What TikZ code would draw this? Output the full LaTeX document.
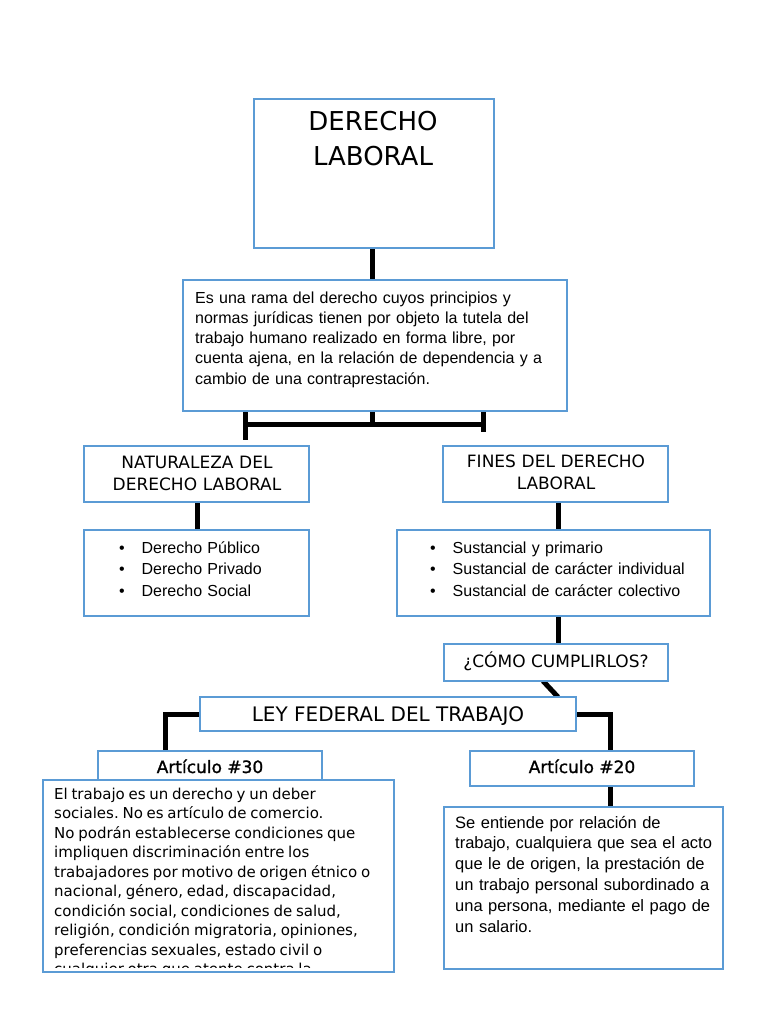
\documentclass[tikz,border=0pt]{standalone}
\usepackage{fontspec}
\setmainfont{Liberation Sans}
\newfontfamily\djfont{DejaVu Sans}
\newfontfamily\djsemi[FakeBold=1.2]{DejaVu Sans}
\newfontfamily\arfont{Liberation Sans}
\usetikzlibrary{backgrounds}
\definecolor{boxblue}{RGB}{91,155,213}
\frenchspacing
\tikzset{
  box/.style={draw=boxblue, line width=2.5pt, fill=white, anchor=north west, inner sep=0pt, outer sep=0pt},
  conn/.style={draw=black, line width=5pt},
  ttl/.style={font=\djfont\fontsize{17}{22}\selectfont, inner sep=0pt, anchor=base},
  ttlml/.style={ttl, text width=225pt, align=center},
  body/.style={font=\arfont\fontsize{16}{20.3}\selectfont, inner sep=0pt, anchor=base west, align=left},
}
\newcommand{\bul}{\makebox[22.5pt][l]{•}}
\begin{document}
\begin{tikzpicture}[x=1pt,y=-1pt]
\useasboundingbox (0,0) rectangle (768,1024);
% boxes
\node[box, minimum width=240pt, minimum height=149pt] (dl) at (254,99) {};
\node[box, minimum width=384pt, minimum height=131pt] (desc) at (183,280) {};
\node[box, minimum width=225pt, minimum height=56pt] (nat) at (84,446) {};
\node[box, minimum width=225pt, minimum height=86pt] (l1) at (84,530) {};
\node[box, minimum width=225pt, minimum height=56pt] (fin) at (443,446) {};
\node[box, minimum width=313pt, minimum height=86pt] (l2) at (397,530) {};
\node[box, minimum width=224pt, minimum height=37pt] (como) at (444,644) {};
\node[box, minimum width=376pt, minimum height=34pt] (ley) at (200,697) {};
\node[box, minimum width=224pt, minimum height=37pt] (a30) at (98,751) {};
\node[box, minimum width=351pt, minimum height=192pt] (b30) at (43,780) {};
\node[box, minimum width=224pt, minimum height=35pt] (a20) at (470,751) {};
\node[box, minimum width=279pt, minimum height=162pt] (b20) at (444,807) {};
% texts
\node[font=\djfont\fontsize{26}{35}\selectfont, inner sep=0pt, anchor=base, text width=240pt, align=center] (dlt) at (373,131) {DERECHO\\LABORAL};
\node[body, text width=370pt] (desct) at (195,303) {Es una rama del derecho cuyos principios y\\normas jurídicas tienen por objeto la tutela del\\trabajo humano realizado en forma libre, por\\cuenta ajena, en la relación de dependencia y a\\cambio de una contraprestación.};
\node[ttlml] (natt) at (197,468) {NATURALEZA DEL\\DERECHO LABORAL};
\node[ttlml] (fint) at (556,467) {FINES DEL DERECHO\\LABORAL};
\node[body, font=\arfont\fontsize{16}{21.5}\selectfont, text width=185pt] (l1t) at (119,553) {\bul Derecho Público\\\bul Derecho Privado\\\bul Derecho Social};
\node[body, font=\arfont\fontsize{16}{21.5}\selectfont, text width=275pt] (l2t) at (430,553) {\bul Sustancial y primario\\\bul Sustancial de carácter individual\\\bul Sustancial de carácter colectivo};
\node[ttl] (comot) at (556,667) {¿CÓMO CUMPLIRLOS?};
\node[ttl, font=\djfont\fontsize{20}{24}\selectfont] (leyt) at (388,721) {LEY FEDERAL DEL TRABAJO};
\node[ttl, font=\djsemi\fontsize{17}{22}\selectfont] (a30t) at (210,773) {Artículo \#30};
\node[ttl, font=\djsemi\fontsize{17}{22}\selectfont] (a20t) at (582,773) {Artículo \#20};
\begin{scope}
\clip (43,780) rectangle (394,967);
\node[body, font=\djfont\fontsize{15}{19.5}\selectfont, text width=335pt] (b30t) at (54,799) {\spaceskip=0.25em plus 0.1em\relax El trabajo es un derecho y un deber\\sociales. No es artículo de comercio.\\No podrán establecerse condiciones que\\impliquen discriminación entre los\\trabajadores por motivo de origen étnico o\\nacional, género, edad, discapacidad,\\condición social, condiciones de salud,\\religión, condición migratoria, opiniones,\\preferencias sexuales, estado civil o\\cualquier otra que atente contra la};
\end{scope}
\node[body, font=\arfont\fontsize{16.5}{20.8}\selectfont, text width=265pt] (b20t) at (455,828) {Se entiende por relación de\\trabajo, cualquiera que sea el acto\\que le de origen, la prestación de\\un trabajo personal subordinado a\\una persona, mediante el pago de\\un salario.};
% connectors
\begin{scope}[on background layer]
\fill[white] (0,0) rectangle (768,1024);
\coordinate (tl) at (245,440);
\coordinate (tm) at (372,424);
\coordinate (tr) at (483,432);
\coordinate (bl) at (245,424);
\coordinate (br) at (483,424);
\draw[conn] ([xshift=-2pt]dl.south) -- ([xshift=-3pt]desc.north);
\draw[conn] (desc.south -| tl) -- (tl);
\draw[conn] (desc.south -| tm) -- (tm);
\draw[conn] (desc.south -| tr) -- (tr);
\draw[conn] (bl) -- (br);
\draw[conn] ([xshift=0.5pt]nat.south) -- ([xshift=0.5pt]l1.north);
\draw[conn] ([xshift=2.5pt]fin.south) -- ([xshift=4.5pt]l2.north);
\draw[conn] ([xshift=4.5pt]l2.south) -- ([xshift=2pt]como.north);
\draw[conn] ([xshift=-13pt]como.south) -- ([xshift=170pt]ley.north);
\draw[conn] (ley.west) -| ([xshift=-45pt]a30.north);
\draw[conn] (ley.east) -| ([xshift=28pt]a20.north);
\draw[conn] ([xshift=28pt]a20.south) -- ([xshift=26.5pt]b20.north);
\end{scope}
\end{tikzpicture}
\end{document}
